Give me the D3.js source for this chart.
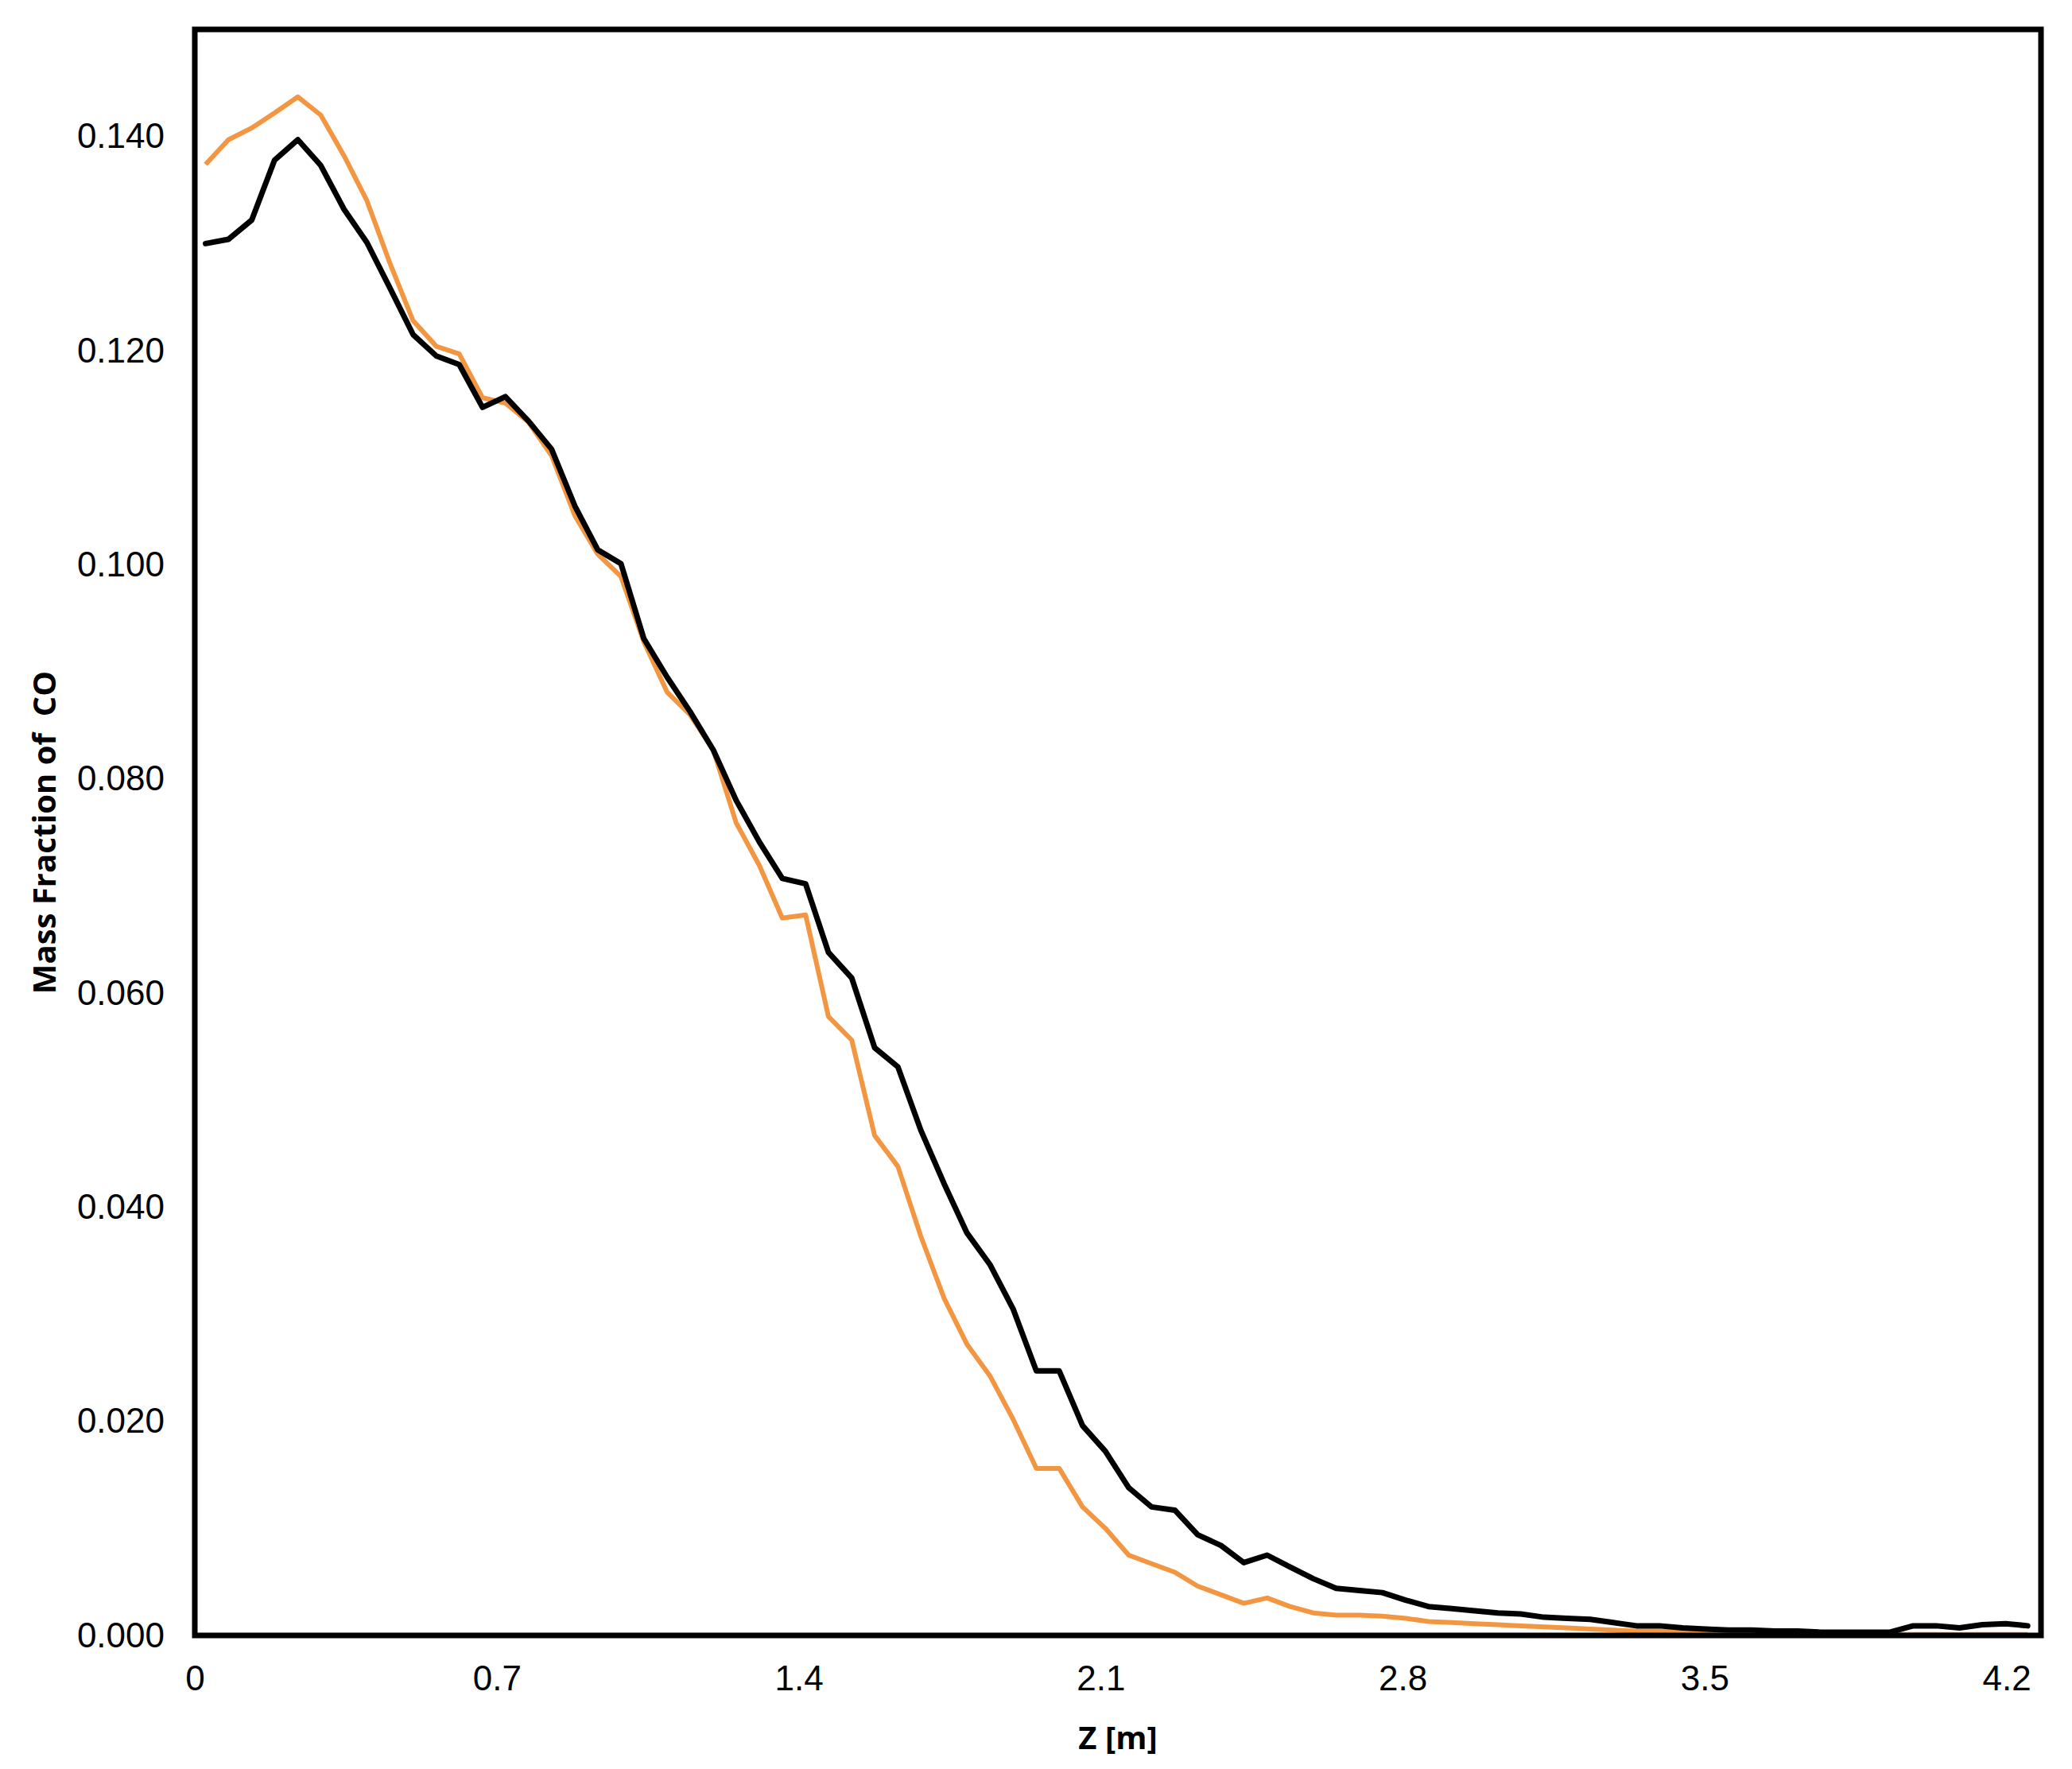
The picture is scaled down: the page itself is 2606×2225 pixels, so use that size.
<!DOCTYPE html>
<html><head><meta charset="utf-8">
<script src="https://cdn.jsdelivr.net/npm/d3@7"></script>
<style>body{margin:0;background:#fff}</style>
</head><body>
<svg id="c" width="2606" height="2225"></svg>
<script>
const zValues = [0.025,0.078,0.132,0.185,0.239,0.292,0.346,0.399,0.453,0.506,0.560,0.613,0.667,0.720,0.774,0.827,0.881,0.934,0.988,1.041,1.095,1.148,1.202,1.255,1.309,1.362,1.416,1.469,1.523,1.576,1.630,1.683,1.737,1.790,1.844,1.897,1.951,2.004,2.058,2.111,2.165,2.218,2.272,2.325,2.379,2.432,2.486,2.539,2.593,2.646,2.700,2.753,2.807,2.860,2.914,2.967,3.021,3.074,3.128,3.181,3.235,3.288,3.342,3.395,3.449,3.502,3.556,3.609,3.663,3.716,3.770,3.823,3.877,3.930,3.984,4.037,4.091,4.144,4.198,4.249];
const blackSeries = [0.1300,0.1304,0.1322,0.1378,0.1397,0.1373,0.1332,0.1301,0.1258,0.1215,0.1195,0.1187,0.1147,0.1157,0.1134,0.1108,0.1055,0.1014,0.1001,0.0931,0.0895,0.0863,0.0827,0.0780,0.0741,0.0707,0.0702,0.0638,0.0614,0.0549,0.0531,0.0472,0.0422,0.0376,0.0346,0.0305,0.0247,0.0247,0.0196,0.0172,0.0138,0.0120,0.0117,0.0094,0.0084,0.0068,0.0075,0.0064,0.0053,0.0044,0.0042,0.0040,0.0033,0.0027,0.0025,0.0023,0.0021,0.0020,0.0017,0.0016,0.0015,0.0012,0.0009,0.0009,0.0007,0.0006,0.0005,0.0005,0.0004,0.0004,0.0003,0.0003,0.0003,0.0003,0.0009,0.0009,0.0007,0.0010,0.0011,0.0009];
const orangeSeries = [0.1374,0.1397,0.1408,0.1422,0.1437,0.1420,0.1382,0.1340,0.1281,0.1228,0.1204,0.1197,0.1156,0.1151,0.1133,0.1102,0.1046,0.1010,0.0989,0.0928,0.0881,0.0860,0.0827,0.0759,0.0719,0.0670,0.0673,0.0578,0.0556,0.0467,0.0438,0.0373,0.0315,0.0272,0.0242,0.0202,0.0156,0.0156,0.0120,0.0100,0.0075,0.0067,0.0059,0.0046,0.0038,0.0030,0.0035,0.0027,0.0021,0.0019,0.0019,0.0018,0.0016,0.0013,0.0012,0.0011,0.0010,0.0009,0.0008,0.0007,0.0006,0.0005,0.0004,0.0004,0.0003,0.0003,0.0002,0.0002,0.0002,0.0002,0.0001,0.0001,0.0001,0.0001,0.0001,0.0001,0.0001,0.0001,0.0001,0.0001];
const xTicks = [0,0.7,1.4,2.1,2.8,3.5,4.2];
const xTickLabels = ["0","0.7","1.4","2.1","2.8","3.5","4.2"];
const yTicks = [0,0.02,0.04,0.06,0.08,0.10,0.12,0.14];

const L=245,R=2567,T=37,B=2057;
const svg=d3.select("#c");
const x=d3.scaleLinear().domain([0,4.28]).range([L,R]);
const y=d3.scaleLinear().domain([0,0.15]).range([B,T]);
const tickFont="'Liberation Sans Narrow','Liberation Sans',Arial,sans-serif";

const xa=svg.append("g").attr("transform",`translate(0,${B})`)
  .call(d3.axisBottom(x).tickValues(xTicks).tickSize(0).tickPadding(38).tickFormat((d,i)=>xTickLabels[i]));
const ya=svg.append("g").attr("transform",`translate(${L},0)`)
  .call(d3.axisLeft(y).tickValues(yTicks).tickSize(0).tickPadding(38).tickFormat(d3.format(".3f")));
[xa,ya].forEach(a=>{a.select(".domain").remove();a.selectAll("text").attr("font-family",tickFont).attr("font-size",44).attr("fill","#000");});

const line=d3.line().x((d,i)=>x(zValues[i])).y(d=>y(d));
svg.append("path").datum(orangeSeries).attr("d",line).attr("fill","none").attr("stroke","#f39642").attr("stroke-width",6).attr("stroke-linejoin","round");
svg.append("path").datum(blackSeries).attr("d",line).attr("fill","none").attr("stroke","#000").attr("stroke-width",7).attr("stroke-linejoin","round").attr("stroke-linecap","round");

svg.append("rect").attr("x",L).attr("y",T).attr("width",R-L).attr("height",B-T).attr("fill","none").attr("stroke","#000").attr("stroke-width",7);

svg.append("text").attr("x",(L+R)/2).attr("y",2200).attr("text-anchor","middle")
  .attr("font-family","'Open Sans',sans-serif").attr("font-weight","bold").attr("font-size",40).text("Z [m]");
svg.append("text").attr("transform",`translate(70,${(T+B)/2}) rotate(-90)`).attr("text-anchor","middle")
  .attr("font-family","'Open Sans',sans-serif").attr("font-weight","bold").attr("font-size",40).attr("xml:space","preserve").text("Mass Fraction of  CO");
</script>
</body></html>
